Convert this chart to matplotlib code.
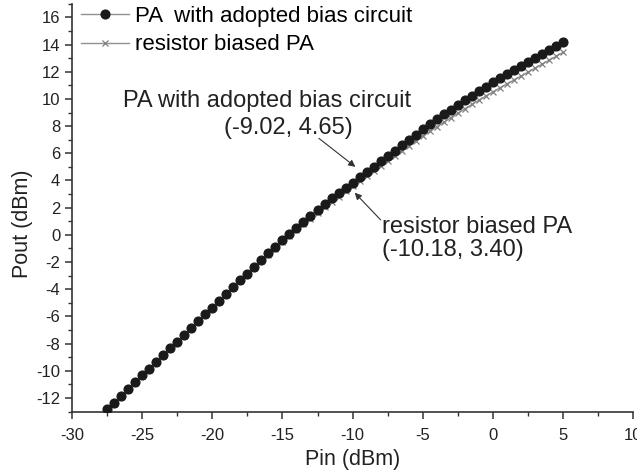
import matplotlib
matplotlib.use("Agg")
import matplotlib.pyplot as plt
from matplotlib.ticker import MultipleLocator

plt.rcParams['font.family'] = ['Liberation Sans', 'DejaVu Sans']
plt.rcParams['axes.unicode_minus'] = False

# input power sweep (dBm)
pin = [-27.5, -27.0, -26.5, -26.0, -25.5, -25.0, -24.5, -24.0, -23.5, -23.0,
       -22.5, -22.0, -21.5, -21.0, -20.5, -20.0, -19.5, -19.0, -18.5, -18.0,
       -17.5, -17.0, -16.5, -16.0, -15.5, -15.0, -14.5, -14.0, -13.5, -13.0,
       -12.5, -12.0, -11.5, -11.0, -10.5, -10.0, -9.5, -9.0, -8.5, -8.0,
       -7.5, -7.0, -6.5, -6.0, -5.5, -5.0, -4.5, -4.0, -3.5, -3.0,
       -2.5, -2.0, -1.5, -1.0, -0.5, 0.0, 0.5, 1.0, 1.5, 2.0,
       2.5, 3.0, 3.5, 4.0, 4.5, 5.0]

# output power, PA with adopted bias circuit (dBm)
pout_adopted = [-12.85, -12.35, -11.85, -11.35, -10.85, -10.35, -9.85, -9.35, -8.85, -8.35,
                -7.85, -7.35, -6.85, -6.35, -5.85, -5.35, -4.85, -4.35, -3.85, -3.35,
                -2.85, -2.35, -1.86, -1.37, -0.88, -0.40, 0.07, 0.53, 0.98, 1.42,
                1.85, 2.27, 2.68, 3.08, 3.47, 3.85, 4.24, 4.63, 5.02, 5.41,
                5.80, 6.19, 6.58, 6.97, 7.36, 7.75, 8.13, 8.50, 8.86, 9.22,
                9.57, 9.91, 10.25, 10.58, 10.90, 11.22, 11.53, 11.84, 12.14, 12.44,
                12.74, 13.03, 13.32, 13.61, 13.90, 14.19]

# output power, resistor biased PA (dBm)
pout_resistor = [-12.92, -12.42, -11.92, -11.42, -10.92, -10.42, -9.92, -9.42, -8.92, -8.42,
                 -7.92, -7.42, -6.92, -6.42, -5.92, -5.42, -4.92, -4.42, -3.92, -3.42,
                 -2.92, -2.44, -1.96, -1.49, -1.02, -0.56, -0.11, 0.33, 0.77, 1.20,
                 1.62, 2.03, 2.43, 2.82, 3.20, 3.57, 3.94, 4.31, 4.68, 5.05,
                 5.42, 5.79, 6.16, 6.53, 6.90, 7.26, 7.61, 7.95, 8.29, 8.62,
                 8.95, 9.27, 9.59, 9.90, 10.21, 10.51, 10.81, 11.10, 11.39, 11.68,
                 11.97, 12.26, 12.55, 12.84, 13.13, 13.42]

p1db_adopted = (-9.02, 4.65)
p1db_resistor = (-10.18, 3.40)

fig = plt.figure(figsize=(6.37, 4.73), dpi=100)
ax = fig.add_axes([0.113, 0.130, 0.881, 0.862])

ax.plot(pin, pout_resistor, color='#909090', lw=1.0, marker='x', ms=5,
        mew=0.9, mec='#808080', label='resistor biased PA', zorder=2)
ax.plot(pin, pout_adopted, color='#909090', lw=1.0, marker='o', ms=6.3,
        mfc='#1a1a1a', mec='#1a1a1a', label='PA  with adopted bias circuit',
        zorder=3)

ax.set_xlim(-30, 10)
ax.set_ylim(-13, 17)
ax.xaxis.set_major_locator(MultipleLocator(5))
ax.xaxis.set_minor_locator(MultipleLocator(2.5))
ax.yaxis.set_minor_locator(MultipleLocator(1))
ax.set_yticks(range(-12, 17, 2))

for side in ('top', 'right'):
    ax.spines[side].set_visible(False)
for side in ('left', 'bottom'):
    ax.spines[side].set_linewidth(1.2)
    ax.spines[side].set_color('#333333')

ax.tick_params(which='major', direction='out', length=5, width=1.1,
               labelsize=12, colors='#333333', labelcolor='#222222')
ax.tick_params(axis='x', which='major', pad=7)
ax.tick_params(which='minor', direction='out', length=3, width=1.0,
               colors='#333333')

ax.set_xlabel('Pin (dBm)', fontsize=15.5, labelpad=4, color='#222222')
ax.set_ylabel('Pout (dBm)', fontsize=15.5, color='#222222')
ax.yaxis.set_label_coords(-0.069, 0.46)

# legend, adopted first
h, l = ax.get_legend_handles_labels()
fig.legend(h[::-1], l[::-1], loc='upper left', bbox_to_anchor=(0.127, 0.987),
           frameon=False, fontsize=16, handlelength=2.15, handletextpad=0.3,
           labelspacing=0.33, borderpad=0, borderaxespad=0)

arrow = dict(arrowstyle='-|>', color='#333333', lw=0.8,
             mutation_scale=10, shrinkA=0, shrinkB=0)

ax.text(-5.86, 9.43, 'PA with adopted bias circuit', fontsize=17,
        va='baseline', ha='right', color='#222222')
ax.text(-10.0, 7.44, '(%.2f, %.2f)' % p1db_adopted, fontsize=17,
        va='baseline', ha='right', color='#222222')
ax.annotate('', xy=(-9.8, 5.0), xytext=(-12.4, 7.1), arrowprops=arrow)

ax.text(-7.93, 0.15, 'resistor biased PA', fontsize=17,
        va='baseline', ha='left', color='#222222')
ax.text(-7.93, -1.55, '(%.2f, %.2f)' % p1db_resistor, fontsize=17,
        va='baseline', ha='left', color='#222222')
ax.annotate('', xy=(-9.85, 3.1), xytext=(-8.0, 1.1), arrowprops=arrow)

plt.savefig('out.png', dpi=100)
